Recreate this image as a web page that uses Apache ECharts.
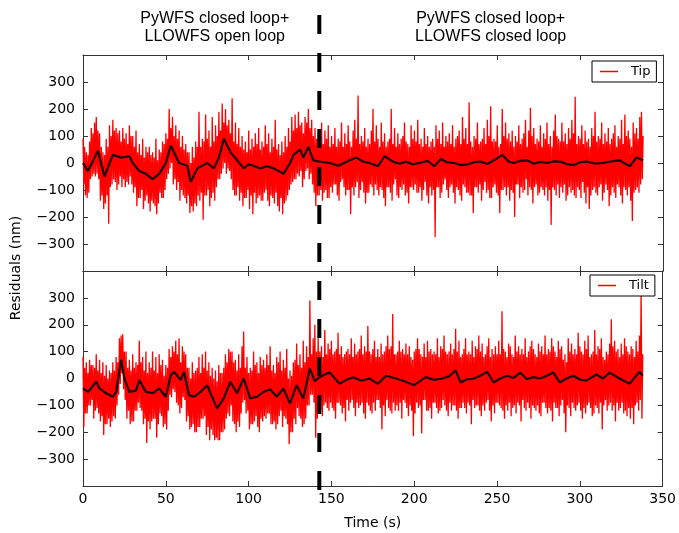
<!DOCTYPE html>
<html>
<head>
<meta charset="utf-8">
<script src="https://cdn.jsdelivr.net/npm/echarts@6/dist/echarts.min.js"></script>
<style>html,body{margin:0;padding:0;background:#fff;}#c{width:679px;height:533px;}</style>
</head>
<body>
<div id="c"></div>
<script>
// Tip residual: local highs read at whole seconds (0..338 s)
const tipPeaks = [
 90,60,40,30,80,130,110,150,170,120,
 110,60,40,30,90,60,140,100,160,120,
 130,110,120,80,130,90,110,70,140,100,
 100,60,120,40,70,30,90,20,60,40,
 60,30,40,20,90,10,50,40,80,70,
 110,90,200,130,170,100,140,90,120,60,
 100,50,70,40,40,0,60,20,80,60,
 190,60,90,80,180,90,120,60,170,80,
 140,100,190,120,220,150,200,140,160,110,
 240,80,150,70,130,60,100,50,80,40,
 120,50,90,60,110,70,130,50,80,60,
 140,70,110,40,90,60,160,50,70,30,
 80,40,100,60,130,80,170,120,180,130,
 190,140,150,110,170,150,200,130,160,100,
 130,90,110,80,150,70,120,90,140,60,
 100,70,130,60,90,80,150,60,110,70,
 140,80,60,120,160,90,250,70,100,80,
 130,60,90,70,120,200,80,140,90,60,
 150,80,110,60,80,90,200,70,130,60,
 110,70,90,100,150,80,70,60,140,90,
 120,80,160,70,90,60,130,70,100,60,
 80,90,60,140,90,120,70,150,60,100,
 80,110,70,140,60,90,100,120,70,170,
 90,130,70,225,80,60,100,90,150,70,
 80,90,130,70,160,100,210,80,90,80,
 140,60,70,200,100,150,90,110,80,120,
 60,100,80,140,70,90,110,160,60,120,
 205,100,130,70,90,80,140,60,110,90,
 150,70,100,60,120,180,100,90,80,150,
 80,110,70,130,90,160,110,245,70,100,
 90,140,70,120,80,90,60,130,100,190,
 80,100,90,150,70,110,80,130,70,90,
 110,140,60,100,90,160,70,180,100,120,
 90,60,150,110,130,90,170,190,100
];
// Tip residual: local lows read at half seconds (0.5..337.5 s)
const tipTroughs = [
 -80,-120,-130,-110,-60,-50,-40,-50,-40,-60,
 -140,-120,-170,-150,-120,-225,-90,-80,-60,-70,
 -100,-80,-50,-90,-60,-90,-70,-80,-50,-80,
 -110,-90,-160,-130,-130,-100,-170,-140,-120,-150,
 -180,-140,-150,-160,-190,-150,-110,-130,-130,-100,
 -60,-40,-20,0,-80,-60,-100,-70,-140,-100,
 -120,-130,-150,-120,-185,-160,-180,-150,-160,-120,
 -140,-110,-210,-120,-120,-100,-160,-130,-110,-140,
 -90,-60,-60,-40,-20,0,-40,-20,-30,-60,
 -100,-120,-120,-90,-140,-110,-160,-130,-130,-100,
 -170,-120,-190,-110,-150,-130,-120,-140,-140,-110,
 -100,-140,-160,-120,-130,-150,-110,-160,-180,-130,
 -190,-150,-140,-120,-100,-80,-70,-60,-60,-40,
 -50,-30,-90,-60,-30,-20,-60,-40,-80,-110,
 -160,-120,-120,-100,-140,-110,-100,-130,-130,-90,
 -110,-80,-80,-120,-140,-70,-60,-90,-120,-100,
 -100,-190,-90,-120,-90,-70,-130,-100,-70,-110,
 -150,-110,-110,-80,-90,-120,-80,-100,-120,-90,
 -100,-130,-160,-90,-90,-110,-140,-80,-60,-120,
 -130,-90,-100,-80,-120,-110,-150,-90,-90,-100,
 -80,-110,-110,-90,-140,-100,-70,-120,-150,-90,
 -120,-100,-275,-90,-90,-130,-110,-80,-60,-100,
 -130,-90,-80,-110,-150,-90,-100,-120,-140,-80,
 -90,-110,-110,-120,-120,-185,-90,-90,-110,-80,
 -140,-100,-70,-110,-100,-130,-130,-90,-80,-110,
 -120,-185,-100,-100,-90,-120,-90,-140,-100,-110,
 -200,-80,-80,-130,-90,-110,-100,-60,-120,-90,
 -100,-150,-90,-80,-120,-110,-90,-100,-120,-90,
 -140,-100,-230,-90,-100,-120,-80,-130,-90,-110,
 -80,-140,-120,-90,-110,-100,-120,-130,-90,-100,
 -130,-70,-110,-150,-90,-170,-120,-100,-90,-110,
 -120,-90,-80,-140,-110,-80,-100,-160,-120,-90,
 -110,-130,-80,-90,-120,-150,-90,-100,-120,-90,
 -140,-215,-110,-100,-90,-110,-80,-60
];
// Tilt residual: local highs at whole seconds, local lows at half seconds
const tiltPeaks = [
 80,40,60,20,70,50,50,40,90,30,
 70,20,60,10,50,0,30,20,60,30,
 80,60,150,160,165,100,100,40,70,30,
 90,40,60,50,140,60,80,30,100,20,
 60,40,100,30,80,20,90,50,70,10,
 50,40,110,80,120,100,140,90,150,60,
 120,100,90,40,40,0,60,20,30,40,
 80,20,90,40,100,30,60,10,40,0,
 30,-10,50,20,20,40,90,60,110,100,
 100,60,70,30,90,40,120,175,40,80,
 20,40,30,100,50,60,20,80,50,70,
 40,90,50,120,30,50,20,80,60,100,
 30,70,40,110,0,30,10,60,70,130,
 50,90,40,140,60,120,80,290,90,150,
 200,100,160,100,120,80,180,90,130,110,
 140,90,100,110,170,90,120,80,90,100,
 110,90,150,80,130,90,100,110,160,90,
 120,100,195,100,90,110,140,80,110,80,
 130,90,100,120,160,110,120,240,90,90,
 100,140,100,110,90,130,90,120,80,70,
 100,110,150,110,90,80,130,80,140,100,
 110,90,100,90,150,80,120,110,160,100,
 90,100,130,90,110,185,100,140,80,90,
 110,150,90,100,90,140,80,120,110,160,
 100,130,80,90,120,150,80,110,90,120,
 90,140,90,250,110,100,80,130,120,90,
 80,160,100,120,90,110,90,150,80,100,
 120,140,110,90,80,130,100,120,90,160,
 90,110,100,150,120,100,80,140,110,120,
 70,90,60,150,100,130,90,110,90,170,
 120,100,90,140,110,160,80,90,100,180,
 90,120,110,150,80,70,100,90,130,220,
 120,140,100,110,80,130,90,150,120,100,
 90,120,110,80,140,100,160,330,90
];
const tiltTroughs = [
 -180,-130,-130,-100,-100,-80,-150,-120,-110,-130,
 -160,-140,-210,-170,-170,-150,-180,-160,-140,-150,
 -100,-60,-20,20,-40,-80,-150,-120,-170,-160,
 -160,-120,-120,-90,-110,-120,-170,-150,-240,-160,
 -190,-160,-150,-150,-220,-170,-130,-140,-180,-170,
 -190,-120,-60,-70,-40,-50,-90,-100,-130,-110,
 -70,-80,-160,-140,-190,-180,-170,-200,-200,-180,
 -180,-150,-150,-140,-210,-180,-230,-190,-210,-230,
 -220,-230,-230,-200,-200,-190,-150,-130,-140,-100,
 -160,-170,-200,-160,-180,-130,-90,-80,-130,-120,
 -190,-170,-170,-160,-140,-180,-200,-150,-160,-140,
 -150,-130,-130,-170,-170,-160,-190,-170,-140,-120,
 -180,-140,-150,-170,-245,-200,-200,-150,-170,-110,
 -140,-150,-180,-170,-150,-100,-100,-60,-60,-90,
 -220,-150,-100,-120,-140,-100,-90,-110,-120,-90,
 -110,-120,-150,-90,-90,-100,-130,-110,-160,-80,
 -120,-90,-80,-110,-140,-90,-110,-100,-90,-130,
 -150,-90,-100,-120,-130,-90,-120,-80,-80,-110,
 -190,-100,-140,-80,-110,-120,-130,-90,-120,-100,
 -120,-90,-150,-80,-90,-110,-140,-100,-120,-215,
 -130,-90,-110,-100,-205,-80,-80,-120,-120,-110,
 -150,-90,-90,-110,-130,-120,-110,-80,-100,-120,
 -140,-90,-120,-100,-100,-120,-150,-110,-110,-90,
 -110,-130,-90,-100,-170,-80,-110,-100,-100,-120,
 -140,-100,-120,-90,-80,-120,-160,-100,-130,-90,
 -90,-100,-110,-120,-150,-100,-120,-90,-140,-110,
 -100,-130,-90,-100,-160,-80,-110,-120,-90,-110,
 -150,-100,-110,-120,-100,-130,-140,-90,-90,-110,
 -130,-110,-120,-160,-90,-110,-110,-140,-100,-80,
 -130,-200,-100,-110,-140,-90,-110,-120,-100,-90,
 -120,-150,-110,-130,-100,-90,-110,-140,-130,-100,
 -110,-130,-90,-190,-100,-80,-120,-100,-90,-120,
 -100,-160,-90,-120,-110,-90,-130,-120,-140,-110,
 -150,-110,-170,-100,-90,-120,-80,-150
];
const tipSmoothT = [0,3,9,13,18,23,28,30,34,38,42,46,50,53,58,63,65,69,75,79,82,85,89,93,97,100,103,107,111,115,121,125,127,131,133,136,139,143,149,154,161,165,169,173,178,182,187,191,195,199,203,208,212,216,220,224,228,232,236,240,244,248,253,257,260,264,268,272,276,280,284,288,292,296,300,304,309,314,319,324,327,330,334,338];
const tipSmoothV = [0,-30,45,-50,30,20,25,0,-30,-40,-60,-40,0,65,0,-10,-70,-20,0,-20,20,90,40,10,-20,-5,-10,-20,-12,-20,-40,0,30,50,20,60,10,5,0,-10,10,20,5,0,-12,25,5,-3,5,-5,0,8,-12,15,2,0,-8,-5,3,5,-4,10,30,5,0,8,10,-3,4,0,6,5,-4,-8,3,5,-2,0,6,10,-2,-12,20,10];
const tiltSmoothT = [0,3,8,10,14,18,20,23,25,28,32,34,38,42,46,50,53,55,59,61,64,67,71,75,77,81,85,89,93,97,101,105,109,113,117,121,125,129,133,137,140,143,147,149,155,159,163,168,173,178,183,189,194,200,207,212,217,221,225,228,232,236,240,244,248,252,256,260,264,268,272,276,280,284,288,292,296,300,304,310,314,318,324,330,336,338];
const tiltSmoothV = [-37,-50,-12,-37,-55,-68,-50,70,0,-50,-45,-6,-50,-55,-37,-68,12,25,-6,25,-62,-68,-50,-25,-55,-111,-74,-12,-55,0,-74,-68,-50,-40,-68,-37,-93,-25,-74,37,-10,6,18,22,-20,-5,5,-8,0,-20,10,0,-10,-25,5,-5,0,8,30,-15,-3,0,10,25,-15,0,10,2,22,-3,5,0,10,22,-15,0,10,-4,-8,15,0,22,0,-20,25,10];
const switchTime = 142.6;
const xTicks = {min: 0, max: 350, interval: 50};
const yTicks = {min: -400, max: 400, interval: 100};
const panelLabels = ['Tip', 'Tilt'];
const topNotes = ['PyWFS closed loop+\nLLOWFS open loop', 'PyWFS closed loop+\nLLOWFS closed loop'];
const noteTimes = [79.5, 246];

// interleave highs (t) and lows (t + 0.5) into one time series
function rawPairs(highs, lows) {
  const out = [];
  for (let i = 0; i < highs.length; i++) {
    out.push([i, highs[i]]);
    if (i < lows.length) out.push([i + 0.5, lows[i]]);
  }
  return out;
}
const smPairs = (t, v) => t.map((x, i) => [x, v[i]]);

const chart = echarts.init(document.getElementById('c'), null, {renderer: 'canvas'});
const lineC = '#333';
const lblFont = {fontFamily: 'DejaVu Sans', fontSize: 14, color: '#000'};
function xAx(grid, pos, labels) {
  return {type: 'value', gridIndex: grid, position: pos, min: xTicks.min, max: xTicks.max, interval: xTicks.interval,
    axisLine: {show: true, onZero: false, lineStyle: {color: lineC, width: 1}},
    axisTick: {show: true, inside: true, length: 5, lineStyle: {color: lineC}},
    axisLabel: Object.assign({show: labels, margin: 6}, lblFont),
    splitLine: {show: false},
    name: labels ? 'Time (s)' : '', nameLocation: 'middle', nameGap: 30,
    nameTextStyle: {fontFamily: 'DejaVu Sans', fontSize: 14, color: '#000'}};
}
function yAx(grid, pos, labels) {
  return {type: 'value', gridIndex: grid, position: pos, min: yTicks.min, max: yTicks.max, interval: yTicks.interval,
    axisLine: {show: true, onZero: false, lineStyle: {color: lineC, width: 1}},
    axisTick: {show: true, inside: true, length: 5, lineStyle: {color: lineC}},
    axisLabel: Object.assign({show: labels, margin: 8,
      formatter: v => (v === yTicks.min || v === yTicks.max) ? '' : String(v).replace('-', '\u2212')}, lblFont),
    splitLine: {show: false}};
}
const legendBase = {orient: 'horizontal', icon: 'rect', itemWidth: 18, itemHeight: 1.5, itemGap: 4,
  borderColor: '#000', borderWidth: 1, padding: [4, 6, 4, 8], backgroundColor: '#fff',
  textStyle: {fontFamily: 'DejaVu Sans', fontSize: 13, color: '#000', padding: [0, 0, 0, 8]}};

chart.setOption({
  animation: false,
  backgroundColor: '#fff',
  grid: [
    {left: 83, width: 580, top: 55, height: 216},
    {left: 83, width: 580, top: 271, height: 215}
  ],
  xAxis: [xAx(0, 'bottom', false), xAx(0, 'top', false), xAx(1, 'bottom', true), xAx(1, 'top', false)],
  yAxis: [yAx(0, 'left', true), yAx(0, 'right', false), yAx(1, 'left', true), yAx(1, 'right', false)],
  legend: [
    Object.assign({}, legendBase, {data: [panelLabels[0]], left: 592, top: 61}),
    Object.assign({}, legendBase, {data: [panelLabels[1]], left: 590, top: 275})
  ],
  series: [
    {name: panelLabels[0], type: 'line', xAxisIndex: 0, yAxisIndex: 0, data: rawPairs(tipPeaks, tipTroughs), showSymbol: false,
      sampling: null, lineStyle: {color: '#ff0000', width: 1.3}, itemStyle: {color: '#ff0000'}, z: 2},
    {name: 'tipSmooth', type: 'line', xAxisIndex: 0, yAxisIndex: 0, data: smPairs(tipSmoothT, tipSmoothV), showSymbol: false,
      lineStyle: {color: '#200000', width: 2.2}, itemStyle: {color: '#000'}, z: 3},
    {name: panelLabels[1], type: 'line', xAxisIndex: 2, yAxisIndex: 2, data: rawPairs(tiltPeaks, tiltTroughs), showSymbol: false,
      sampling: null, lineStyle: {color: '#ff0000', width: 1.3}, itemStyle: {color: '#ff0000'}, z: 2},
    {name: 'tiltSmooth', type: 'line', xAxisIndex: 2, yAxisIndex: 2, data: smPairs(tiltSmoothT, tiltSmoothV), showSymbol: false,
      lineStyle: {color: '#200000', width: 2.2}, itemStyle: {color: '#000'}, z: 3}
  ]
});

const xs = chart.convertToPixel({xAxisIndex: 0}, switchTime);
const leftMid = chart.convertToPixel({xAxisIndex: 0}, noteTimes[0]);
const rightMid = chart.convertToPixel({xAxisIndex: 0}, noteTimes[1]);
chart.setOption({
  graphic: [
    {type: 'line', z: 100, shape: {x1: xs, y1: 15, x2: xs, y2: 490},
      style: {stroke: '#000', lineWidth: 4, lineDash: [19, 19]}},
    {type: 'text', x: leftMid, y: 10, style: {text: topNotes[0], textAlign: 'center', fill: '#000',
      font: '16px "Liberation Sans", Arial, sans-serif', lineHeight: 18}},
    {type: 'text', x: rightMid, y: 10, style: {text: topNotes[1], textAlign: 'center', fill: '#000',
      font: '16px "Liberation Sans", Arial, sans-serif', lineHeight: 18}},
    {type: 'text', x: 16, y: 268, rotation: Math.PI / 2, style: {text: 'Residuals (nm)', textAlign: 'center',
      textVerticalAlign: 'middle', fill: '#000', font: '14px "DejaVu Sans"'}}
  ]
});
</script>
</body>
</html>
